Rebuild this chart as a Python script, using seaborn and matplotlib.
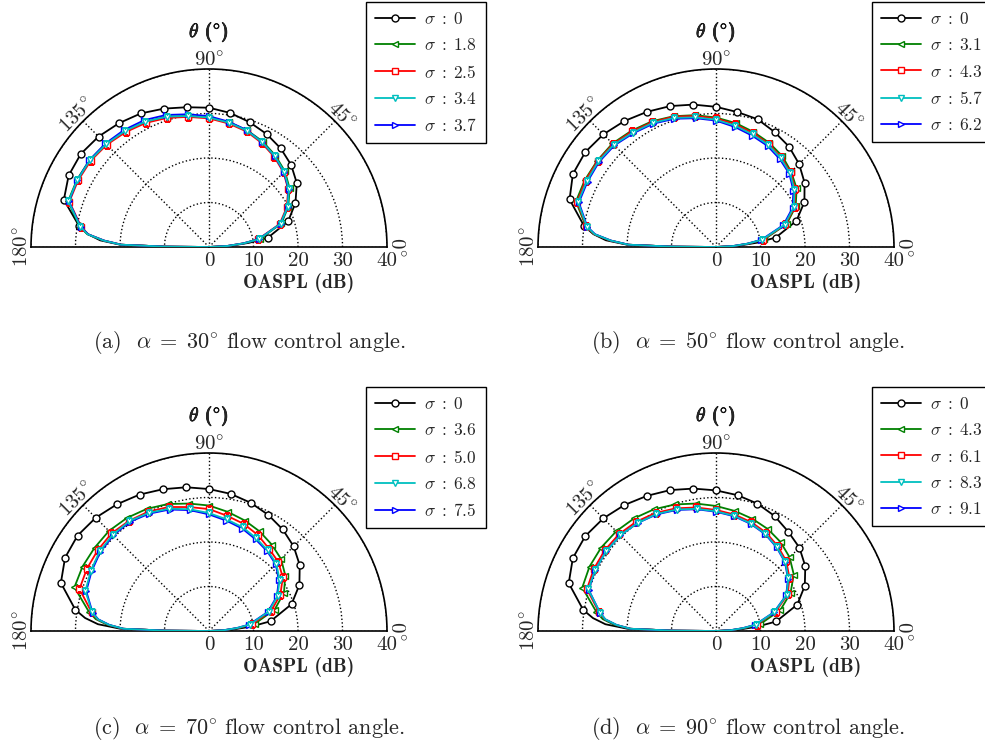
import numpy as np
import matplotlib
matplotlib.use("Agg")
import matplotlib.pyplot as plt
import seaborn as sns
from matplotlib.lines import Line2D
import matplotlib.patheffects as pe

# polar angle (deg) of each data point, markers sit on 9..171
theta = [0, 3, 6, 9, 18, 27, 36, 45, 54, 63, 72, 81, 90, 99, 108, 117, 126, 135,
         144, 153, 162, 171, 174, 176.5, 178.5, 179.5, 180]

# (a) alpha = 30
a_s0 = [0, 4.7, 9.1, 13.4, 18.7, 21.8, 24.4, 26.1, 27.4, 28.5, 29.5, 30.5, 31.3, 31.8, 32.7, 33.7, 34.4, 35.1, 35.6, 35.4, 34.3, 29.5, 27.3, 24.5, 20.0, 10.0, 0]
a_s1 = [0, 4.1, 8.0, 11.6, 17.1, 20.0, 22.4, 24.1, 25.4, 26.6, 27.6, 28.4, 29.1, 29.8, 30.8, 31.5, 32.2, 32.8, 33.2, 33.3, 33.3, 29.4, 27.5, 23.8, 19.8, 10.0, 0]
a_s2 = [0, 3.9, 7.7, 11.2, 16.7, 19.6, 22.0, 23.7, 25.0, 26.2, 27.3, 28.1, 28.9, 29.6, 30.5, 31.3, 31.9, 32.5, 32.9, 33.0, 33.0, 29.1, 27.3, 23.6, 19.7, 10.0, 0]
a_s3 = [0, 4.0, 7.8, 11.4, 16.9, 19.8, 22.2, 23.9, 25.2, 26.4, 27.5, 28.3, 29.1, 29.8, 30.8, 31.6, 32.2, 32.7, 33.1, 33.2, 33.2, 29.3, 27.4, 23.7, 19.8, 10.0, 0]
a_s4 = [0, 3.9, 7.7, 11.3, 16.9, 19.8, 22.1, 23.8, 25.2, 26.4, 27.6, 28.5, 29.4, 30.2, 31.2, 32.0, 32.5, 32.9, 33.2, 33.2, 33.1, 29.2, 27.3, 23.6, 19.7, 10.0, 0]
a_sigma = ["0", "1.8", "2.5", "3.4", "3.7"]

# (b) alpha = 50
b_s0 = [0, 4.8, 9.3, 13.6, 19.0, 22.3, 24.6, 26.4, 27.9, 29.0, 30.2, 30.7, 31.5, 32.4, 33.3, 34.1, 35.0, 35.8, 36.3, 36.1, 34.6, 30.0, 27.7, 24.8, 20.0, 10.0, 0]
b_s1 = [0, 3.9, 7.5, 11.0, 16.7, 20.1, 22.4, 23.9, 25.3, 26.3, 27.2, 28.2, 29.1, 30.0, 30.9, 31.7, 32.3, 32.9, 33.0, 33.1, 33.1, 29.6, 27.6, 23.9, 19.8, 10.0, 0]
b_s2 = [0, 3.8, 7.3, 10.7, 16.4, 19.8, 22.0, 23.7, 24.9, 26.0, 26.9, 27.9, 28.9, 29.8, 30.8, 31.5, 32.1, 32.7, 32.9, 32.9, 32.8, 29.5, 27.5, 23.8, 19.7, 10.0, 0]
b_s3 = [0, 3.7, 7.1, 10.5, 16.2, 19.6, 21.8, 23.5, 24.7, 25.8, 26.6, 27.6, 28.6, 29.5, 30.5, 31.3, 31.8, 32.5, 32.7, 32.6, 32.6, 29.4, 27.4, 23.7, 19.7, 10.0, 0]
b_s4 = [0, 3.6, 7.0, 10.3, 15.9, 19.3, 21.5, 23.3, 24.4, 25.5, 26.3, 27.3, 28.4, 29.3, 30.3, 31.1, 31.6, 32.3, 32.5, 32.4, 32.4, 29.3, 27.3, 23.6, 19.6, 10.0, 0]
b_sigma = ["0", "3.1", "4.3", "5.7", "6.2"]

# (c) alpha = 70
c_s0 = [0, 4.9, 9.5, 14.0, 19.5, 22.8, 25.2, 26.9, 28.2, 29.3, 30.3, 31.2, 31.9, 32.7, 33.5, 34.4, 35.2, 36.0, 36.5, 36.3, 35.0, 30.4, 28.0, 25.0, 20.0, 10.0, 0]
c_s1 = [0, 3.6, 7.1, 10.4, 15.5, 18.9, 21.2, 22.9, 24.0, 25.1, 26.1, 27.1, 28.2, 29.0, 30.0, 30.8, 31.4, 31.8, 31.8, 31.9, 31.8, 27.3, 25.6, 22.9, 19.4, 10.0, 0]
c_s2 = [0, 3.4, 6.7, 9.8, 14.7, 18.0, 20.5, 22.0, 22.9, 24.2, 25.3, 26.2, 27.4, 28.2, 29.3, 30.1, 30.6, 31.0, 30.9, 30.8, 30.6, 26.7, 25.2, 22.6, 19.3, 10.0, 0]
c_s3 = [0, 3.3, 6.3, 9.3, 14.1, 17.3, 19.6, 21.4, 22.4, 23.4, 24.5, 25.4, 26.5, 27.7, 28.9, 29.8, 30.5, 30.6, 30.4, 29.8, 29.2, 26.6, 25.1, 22.5, 19.2, 10.0, 0]
c_s4 = [0, 3.2, 6.2, 9.1, 13.9, 17.1, 19.4, 21.2, 22.2, 23.1, 24.2, 25.1, 26.2, 27.5, 28.7, 29.6, 30.3, 30.4, 30.2, 29.6, 29.0, 26.5, 25.0, 22.4, 19.2, 10.0, 0]
c_sigma = ["0", "3.6", "5.0", "6.8", "7.5"]

# (d) alpha = 90
d_s0 = [0, 4.8, 9.3, 13.7, 19.2, 22.4, 24.8, 26.5, 27.6, 29.0, 30.1, 30.9, 31.6, 32.4, 33.3, 34.1, 35.0, 35.8, 36.3, 36.1, 34.8, 30.2, 27.8, 24.9, 20.0, 10.0, 0]
d_s1 = [0, 3.5, 6.9, 10.1, 15.2, 18.8, 21.6, 23.4, 24.7, 25.7, 26.5, 27.3, 28.1, 29.0, 29.9, 30.7, 31.3, 31.7, 31.9, 31.9, 31.6, 27.2, 25.6, 22.9, 19.4, 10.0, 0]
d_s2 = [0, 3.3, 6.3, 9.3, 14.1, 18.1, 20.4, 22.3, 23.6, 24.8, 25.7, 26.5, 27.2, 28.1, 29.0, 29.8, 30.4, 30.8, 30.9, 30.8, 30.5, 26.6, 25.1, 22.5, 19.2, 10.0, 0]
d_s3 = [0, 3.2, 6.1, 9.0, 13.8, 17.8, 20.1, 22.0, 23.3, 24.5, 25.4, 26.2, 26.9, 27.8, 28.7, 29.5, 30.0, 30.4, 30.5, 30.4, 30.2, 26.4, 25.0, 22.4, 19.2, 10.0, 0]
d_s4 = [0, 3.1, 6.0, 8.9, 13.7, 17.7, 20.0, 21.9, 23.2, 24.4, 25.3, 26.1, 26.8, 27.7, 28.6, 29.4, 30.0, 30.4, 30.5, 30.4, 30.1, 26.4, 25.0, 22.4, 19.2, 10.0, 0]
d_sigma = ["0", "4.3", "6.1", "8.3", "9.1"]

alphas = ["30", "50", "70", "90"]
panel_tags = ["a", "b", "c", "d"]

colors = ["k", "g", "r", "c", "b"]
markers = ["o", "<", "s", "v", ">"]
zorders = [3, 4, 5, 7, 6]

sns.set_style("white")
plt.rcParams["font.family"] = "serif"
plt.rcParams["font.serif"] = ["cmr10"]
plt.rcParams["mathtext.fontset"] = "cm"
plt.rcParams["axes.unicode_minus"] = False

W, H = 985, 744
fig = plt.figure(figsize=(W / 100, H / 100), dpi=100)

R = 178  # pixel radius of the 40 dB circle
centers = [(209, 247), (716, 247), (209, 631), (716, 631)]
legend_xy = [(366, 2), (872, 2), (366, 387), (872, 387)]
caption_xy = [(249, 343), (748, 343), (249, 728), (748, 728)]
panels = [[a_s0, a_s1, a_s2, a_s3, a_s4], [b_s0, b_s1, b_s2, b_s3, b_s4],
          [c_s0, c_s1, c_s2, c_s3, c_s4], [d_s0, d_s1, d_s2, d_s3, d_s4]]
sigmas = [a_sigma, b_sigma, c_sigma, d_sigma]

th = np.deg2rad(theta)

for p in range(4):
    cx, cy = centers[p]
    # half-polar sits centred in a square box
    ax = fig.add_axes([(cx - R) / W, (H - cy - R / 2) / H, 2 * R / W, 2 * R / H],
                      projection="polar")
    ax.set_thetamin(0)
    ax.set_thetamax(180)
    ax.set_rlim(0, 40)

    handles = []
    for k in range(5):
        sns.lineplot(x=th, y=panels[p][k], ax=ax, sort=False, estimator=None,
                     color=colors[k], lw=1.3, marker=markers[k], markevery=slice(3, 22),
                     ms=5, mfc="white", mec=colors[k], mew=1.0, zorder=zorders[k])
        handles.append(Line2D([], [], color=colors[k], lw=1.3, marker=markers[k], ms=5,
                              mfc="white", mec=colors[k], mew=1.0,
                              label=r"$\sigma\;:\;%s$" % sigmas[p][k]))

    ax.set_thetagrids([0, 45, 90, 135, 180],
                      labels=[r"$0^{\circ}$", r"$45^{\circ}$", r"$90^{\circ}$",
                              r"$135^{\circ}$", r"$180^{\circ}$"])
    ax.tick_params(axis="x", labelrotation="auto", labelsize=15, pad=-5)
    ax.set_rticks([0, 10, 20, 30, 40])
    ax.set_yticklabels(["0", "10", "20", "30", "40"])
    ax.tick_params(axis="y", labelsize=15, pad=0)
    ax.grid(True, color="k", linestyle=":", linewidth=1.0)
    ax.spines["polar"].set_color("k")
    ax.spines["polar"].set_linewidth(1.2)
    for s in ["start", "end"]:
        ax.spines[s].set_color("k")
        ax.spines[s].set_linewidth(1.2)

    fig.text(cx / W, 1 - (cy - 215) / H, r"$\theta$ ($^{\circ}$)", family="cmb10", fontsize=14,
             ha="center", va="center",
             path_effects=[pe.withStroke(linewidth=0.5, foreground="k")])
    fig.text((cx + 90) / W, 1 - (cy + 36) / H, "OASPL (dB)", family="cmb10", fontsize=14,
             ha="center", va="center")

    lx, ly = legend_xy[p]
    leg = ax.legend(handles=handles, loc="upper left", bbox_to_anchor=(lx / W, 1 - ly / H),
                    bbox_transform=fig.transFigure, borderaxespad=0, fontsize=12.5,
                    frameon=True, fancybox=False, edgecolor="k", framealpha=1,
                    handlelength=2.3, handletextpad=0.55, labelspacing=0.6,
                    borderpad=0.5, numpoints=1)
    leg.get_frame().set_linewidth(1.0)

    tx, ty = caption_xy[p]
    fig.text(tx / W, 1 - ty / H,
             r"(%s)  $\alpha\;=\;%s^{\circ}$ flow control angle." % (panel_tags[p], alphas[p]),
             fontsize=16, ha="center", va="center")

fig.savefig("out.png", dpi=100)
